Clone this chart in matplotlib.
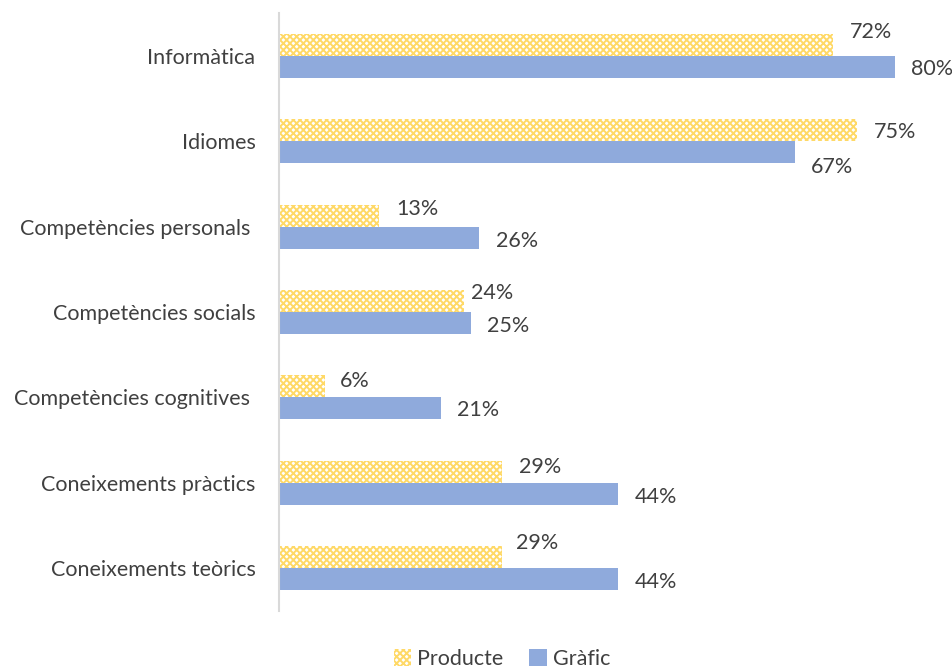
import matplotlib
matplotlib.use("Agg")
import matplotlib.pyplot as plt
import numpy as np

# Data
categories = ["Informàtica", "Idiomes", "Competències personals ", "Competències socials",
              "Competències cognitives ", "Coneixements pràctics", "Coneixements teòrics"]
producte = [72, 75, 13, 24, 6, 29, 29]
grafic = [80, 67, 26, 25, 21, 44, 44]

# label nudges in pixels (dx, dy), positive dy = downwards
producte_nudge = [(16, -13), (17, 2), (17, -7), (7, -8), (15, -5), (17, -5), (14, -14)]
grafic_nudge = [(16, 2), (16, 15), (17, 3), (16, 3), (16, 2), (17, 3), (17, 3)]

plt.rcParams['font.family'] = ['Lato', 'DejaVu Sans']
plt.rcParams['hatch.linewidth'] = 1.4
plt.rcParams['hatch.color'] = '#FFD966'

text_col = '#404040'
blue = '#8FAADC'
yellow = '#FFD966'

fig = plt.figure(figsize=(9.53, 6.71), dpi=100)
ax = fig.add_axes([279 / 953, 1 - 610.7 / 671, (279 + 85 * 7.7) / 953 - 279 / 953, (610.7 - 13.3) / 671])

y = np.arange(len(categories))
h = 0.258
ax.barh(y - h / 2, producte, height=h, color='white', edgecolor=yellow, hatch='xxxxx', linewidth=0,
        label='Producte')
ax.barh(y + h / 2, grafic, height=h, color=blue, linewidth=0, label='Gràfic')

px = 72 / 100  # points per pixel
for i, v in enumerate(producte):
    dx, dy = producte_nudge[i]
    ax.annotate(f"{v}%", (v, y[i] - h / 2), xytext=(dx * px, -dy * px), textcoords='offset points',
                ha='left', va='center', fontsize=15.5, color=text_col)
for i, v in enumerate(grafic):
    dx, dy = grafic_nudge[i]
    ax.annotate(f"{v}%", (v, y[i] + h / 2), xytext=(dx * px, -dy * px), textcoords='offset points',
                ha='left', va='center', fontsize=15.5, color=text_col)

ax.set_xlim(0, 85)
ax.set_ylim(6.5, -0.5)
ax.set_yticks(y)
ax.set_yticklabels(categories, fontsize=15.5, color=text_col)
ax.tick_params(axis='y', length=0, pad=17)
ax.set_xticks([])
for s in ['top', 'right', 'bottom']:
    ax.spines[s].set_visible(False)
ax.spines['left'].set_color('#D9D9D9')
ax.spines['left'].set_linewidth(1.5)

leg = fig.legend(loc='center', bbox_to_anchor=(502 / 953, 1 - 659 / 671), ncol=2, frameon=False,
                 fontsize=15.5, handlelength=0.8, handleheight=0.8, handletextpad=0.3, columnspacing=1.2,
                 borderpad=0.2)
for t in leg.get_texts():
    t.set_color(text_col)

fig.savefig("out.png", dpi=100)
